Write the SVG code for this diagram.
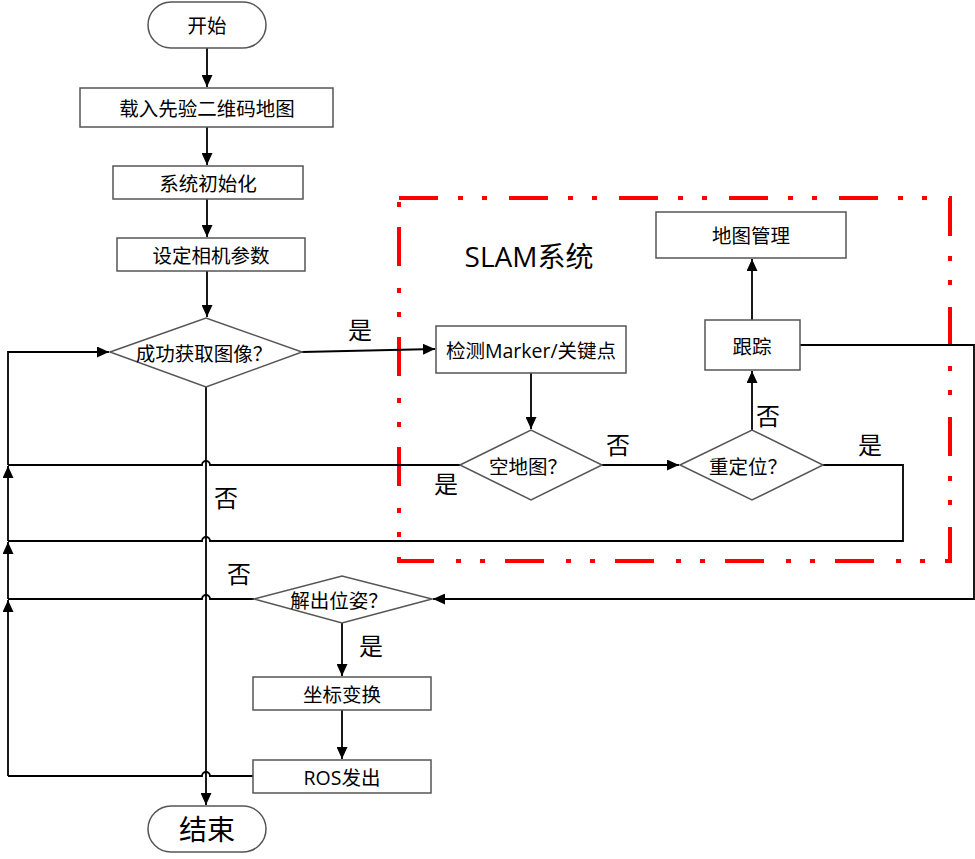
<svg xmlns="http://www.w3.org/2000/svg" width="975" height="859" viewBox="0 0 975 859">
<style>
.box{fill:#fff;stroke:#555;stroke-width:1.5}
.t{font-family:"Open Sans","Noto Sans CJK SC",sans-serif;font-size:19.5px;fill:#000;text-anchor:middle;dominant-baseline:central}
.lbl{font-family:"Liberation Serif","Noto Sans CJK SC",serif;font-size:24px;fill:#000;text-anchor:middle;dominant-baseline:central}
.c{fill:none;stroke:#000;stroke-width:1.8}
.ca{fill:none;stroke:#000;stroke-width:1.8;marker-end:url(#ah)}
</style>
<defs>
<marker id="ah" markerUnits="userSpaceOnUse" markerWidth="12" markerHeight="11" refX="12" refY="5.5" orient="auto">
<path d="M0,0 L12,5.5 L0,11 z" fill="#000"/>
</marker>
</defs>
<rect width="975" height="859" fill="#fff"/>
<g id="slam-region">
<rect x="399" y="198" width="551" height="363" fill="none" stroke="#f00" stroke-width="4" stroke-dasharray="39 20 5 19 5 22"/>
<text x="529" y="256" font-family="'Open Sans','Noto Sans CJK SC',sans-serif" font-size="28" text-anchor="middle" dominant-baseline="central">SLAM系统</text>
</g>
<g id="connectors">
<path class="ca" d="M207,48 V87"/>
<path class="ca" d="M207,127 V165"/>
<path class="ca" d="M207,199 V237"/>
<path class="ca" d="M207,271 V317"/>
<path class="ca" d="M206,387 V805"/>
<path class="ca" d="M302,352 L435,349"/>
<path class="ca" d="M531,373 V429"/>
<path class="ca" d="M602,465 H679"/>
<path class="ca" d="M752,430 V371"/>
<path class="ca" d="M752,320 V259"/>
<path class="ca" d="M342,623 V676"/>
<path class="ca" d="M342,710 V759"/>
<path class="ca" d="M800,345 H974 V599 H433"/>
<path class="c" d="M460,465 H210 A4,4 0 0 0 202,465 H8"/>
<path class="c" d="M823,465 H903 V541 H210 A4,4 0 0 0 202,541 H8"/>
<path class="c" d="M254,599 H210 A4,4 0 0 0 202,599 H8"/>
<path class="c" d="M253,776 H210 A4,4 0 0 0 202,776 H8"/>
<path class="ca" d="M8,776 V600"/>
<path class="ca" d="M8,599 V542"/>
<path class="ca" d="M8,541 V466"/>
<path class="ca" d="M8,465 V352 H109"/>
<text class="lbl" x="360" y="331">是</text>
<text class="lbl" x="226" y="499">否</text>
<text class="lbl" x="239" y="575">否</text>
<text class="lbl" x="446" y="485">是</text>
<text class="lbl" x="618" y="446">否</text>
<text class="lbl" x="768" y="417">否</text>
<text class="lbl" x="870" y="446">是</text>
<text class="lbl" x="371" y="647">是</text>
</g>
<g id="start">
<rect class="box" x="148" y="2" width="118" height="46" rx="23"/>
<text class="t" x="207" y="25">开始</text>
</g>
<g id="load-map">
<rect class="box" x="80" y="88" width="253" height="39"/>
<text class="t" x="207" y="108">载入先验二维码地图</text>
</g>
<g id="init">
<rect class="box" x="113" y="166" width="190" height="33"/>
<text class="t" x="208" y="183">系统初始化</text>
</g>
<g id="camera">
<rect class="box" x="117" y="238" width="188" height="33"/>
<text class="t" x="211" y="255">设定相机参数</text>
</g>
<g id="get-image">
<polygon class="box" points="110,352 206,318 302,352 206,387"/>
<text class="t" x="204" y="353">成功获取图像？</text>
</g>
<g id="detect">
<rect class="box" x="436" y="326" width="190" height="47"/>
<text class="t" x="531" y="350">检测Marker/关键点</text>
</g>
<g id="empty-map">
<polygon class="box" points="460,465 531,430 602,465 531,500"/>
<text class="t" x="528" y="466">空地图？</text>
</g>
<g id="reloc">
<polygon class="box" points="680,465 752,430 823,465 752,500"/>
<text class="t" x="748" y="466">重定位？</text>
</g>
<g id="track">
<rect class="box" x="705" y="320" width="95" height="50"/>
<text class="t" x="752" y="346">跟踪</text>
</g>
<g id="map-mgmt">
<rect class="box" x="656" y="212" width="190" height="46"/>
<text class="t" x="751" y="235">地图管理</text>
</g>
<g id="solve-pose">
<polygon class="box" points="254,599 342,576 432,599 342,623"/>
<text class="t" x="339" y="600">解出位姿？</text>
</g>
<g id="transform">
<rect class="box" x="253" y="677" width="178" height="33"/>
<text class="t" x="342" y="694">坐标变换</text>
</g>
<g id="ros">
<rect class="box" x="253" y="760" width="178" height="33"/>
<text class="t" x="342" y="777">ROS发出</text>
</g>
<g id="end">
<rect class="box" x="148" y="806" width="118" height="46" rx="23"/>
<text class="t" x="207" y="829" style="font-size:28px">结束</text>
</g>
</svg>
